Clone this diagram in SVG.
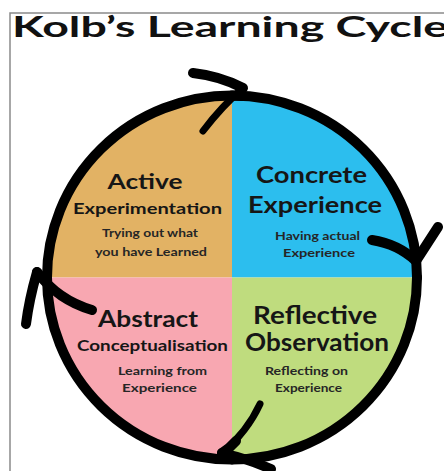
<svg xmlns="http://www.w3.org/2000/svg" width="444" height="471" viewBox="0 0 444 471">
  <defs>
    <style>
      .title { font-family: "Lato", "Liberation Sans", sans-serif; font-weight: 700; font-size: 28px; fill: #111; }
      .head { font-family: "Lato", "Liberation Sans", sans-serif; font-weight: 700; fill: #161616; text-anchor: middle; }
      .small { font-family: "Lato", "Liberation Sans", sans-serif; font-weight: 700; font-size: 11.5px; fill: #262626; text-anchor: middle; }
      .ring { fill: none; stroke: #000; stroke-width: 10; stroke-linecap: round; }
      .barb { fill: none; stroke: #000; stroke-width: 10; stroke-linecap: round; stroke-linejoin: round; }
      .barb-thin { fill: none; stroke: #000; stroke-width: 7; stroke-linecap: round; }
      .frame { fill: none; stroke: #8a8a8a; stroke-width: 1.5; }
    </style>
    <clipPath id="disc">
      <ellipse cx="232" cy="277.5" rx="185" ry="182"/>
    </clipPath>
  </defs>

  <rect x="0" y="0" width="444" height="471" fill="#fff"/>

  <!-- frame: top and left edges -->
  <path class="frame" d="M10,471 V13 H444"/>

  <text class="title" x="12" y="37" textLength="436" lengthAdjust="spacingAndGlyphs">Kolb’s Learning Cycle</text>

  <!-- four stages of the cycle -->
  <g id="active-experimentation">
    <rect x="40" y="90" width="192" height="187.5" fill="#E2B264" clip-path="url(#disc)"/>
    <text class="head" x="145" y="189" font-size="21" textLength="75" lengthAdjust="spacingAndGlyphs">Active</text>
    <text class="head" x="147.5" y="214" font-size="16" textLength="149" lengthAdjust="spacingAndGlyphs">Experimentation</text>
    <text class="small" x="150" y="237" textLength="96" lengthAdjust="spacingAndGlyphs">Trying out what</text>
    <text class="small" x="151" y="256" textLength="112" lengthAdjust="spacingAndGlyphs">you have Learned</text>
  </g>

  <g id="concrete-experience">
    <rect x="232" y="90" width="192" height="187.5" fill="#2CBEEE" clip-path="url(#disc)"/>
    <text class="head" x="311.5" y="183" font-size="23" textLength="111" lengthAdjust="spacingAndGlyphs">Concrete</text>
    <text class="head" x="315" y="213" font-size="23" textLength="134" lengthAdjust="spacingAndGlyphs">Experience</text>
    <text class="small" x="317.5" y="240" textLength="85" lengthAdjust="spacingAndGlyphs">Having actual</text>
    <text class="small" x="319" y="257" textLength="72" lengthAdjust="spacingAndGlyphs">Experience</text>
  </g>

  <g id="abstract-conceptualisation">
    <rect x="40" y="277.5" width="192" height="190" fill="#F8A7B1" clip-path="url(#disc)"/>
    <text class="head" x="148" y="327" font-size="22" textLength="100" lengthAdjust="spacingAndGlyphs">Abstract</text>
    <text class="head" x="152.5" y="351" font-size="16" textLength="151" lengthAdjust="spacingAndGlyphs">Conceptualisation</text>
    <text class="small" x="162.5" y="375" textLength="89" lengthAdjust="spacingAndGlyphs">Learning from</text>
    <text class="small" x="159.5" y="392" textLength="75" lengthAdjust="spacingAndGlyphs">Experience</text>
  </g>

  <g id="reflective-observation">
    <rect x="232" y="277.5" width="192" height="190" fill="#BFDC7E" clip-path="url(#disc)"/>
    <text class="head" x="315" y="324" font-size="24" textLength="124" lengthAdjust="spacingAndGlyphs">Reflective</text>
    <text class="head" x="317" y="351" font-size="24" textLength="144" lengthAdjust="spacingAndGlyphs">Observation</text>
    <text class="small" x="306.5" y="375" textLength="83" lengthAdjust="spacingAndGlyphs">Reflecting on</text>
    <text class="small" x="308.5" y="392" textLength="67" lengthAdjust="spacingAndGlyphs">Experience</text>
  </g>

  <!-- clockwise arcs between stages, each ending in a hand-drawn arrowhead -->
  <g id="connectors">
    <g id="active-to-concrete">
      <path class="ring" d="M47,277.5 A185,182 0 0 1 232,95.5 L243,96"/>
      <path class="barb" d="M193,73 Q220,76 243,88"/>
      <path class="barb-thin" d="M243,88 Q222,106 203,131"/>
    </g>
    <g id="concrete-to-reflective">
      <path class="ring" d="M232,95.5 A185,182 0 0 1 417,277.5"/>
      <path class="barb" d="M372,240 Q398,244 416,261"/>
      <path class="barb" d="M416,261 Q429,241 438,227"/>
    </g>
    <g id="reflective-to-abstract">
      <path class="ring" d="M417,277.5 A185,182 0 0 1 232,459.5"/>
      <path class="barb-thin" d="M260,404 Q247,432 222,453"/>
      <path class="barb" d="M236,441 Q230,448 222,453"/>
      <path class="barb" d="M222,453 Q248,459 271,469"/>
    </g>
    <g id="abstract-to-active">
      <path class="ring" d="M232,459.5 A185,182 0 0 1 47,277.5"/>
      <path class="barb" d="M37,272 Q29,300 26,324"/>
      <path class="barb" d="M37,272 Q58,300 92,310"/>
    </g>
  </g>
</svg>
